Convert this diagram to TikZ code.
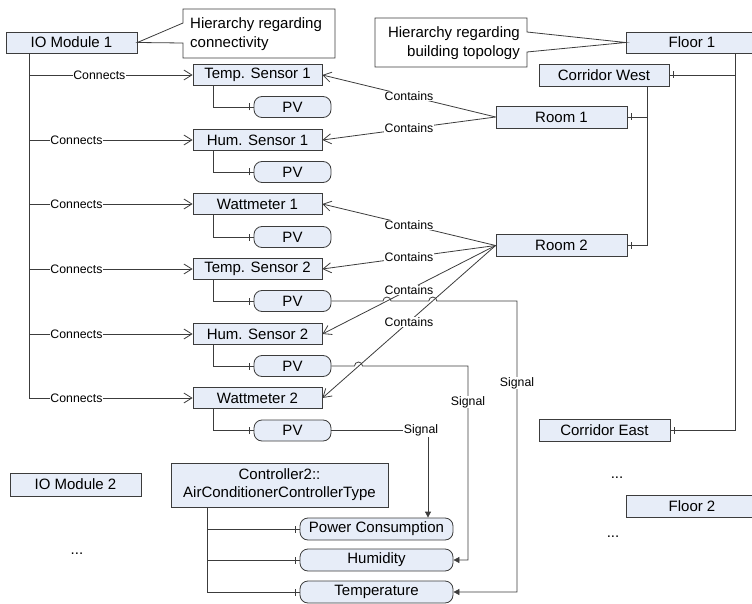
\documentclass[tikz,border=0pt]{standalone}
\usepackage{fontspec}
\setmainfont{Liberation Sans}
\usetikzlibrary{arrows.meta,decorations.markings}
\definecolor{boxfill}{RGB}{231,237,248}
\definecolor{ln}{RGB}{60,60,60}
\begin{document}
\begin{tikzpicture}[x=1pt,y=-1pt,
  every node/.style={font=\fontsize{15}{18}\selectfont},
  box/.style={draw=ln, fill=boxfill, line width=0.8pt, inner sep=0pt, minimum height=21pt},
  sens/.style={box, minimum width=129pt},
  pvbox/.style={box, rounded corners=8pt, minimum width=77pt},
  wbox/.style={box, minimum width=131pt, minimum height=22pt},
  sigbox/.style={box, rounded corners=8pt, minimum width=153pt, minimum height=22pt},
  lab/.style={font=\fontsize{12.3}{14}\selectfont, fill=white, inner sep=0.6pt},
  conn/.style={draw=ln, line width=0.8pt},
  openarr/.style={conn, -{Straight Barb[length=8pt,width=10pt]}},
  sigarr/.style={conn, -{Triangle[length=6pt,width=6pt]}},
  tickend/.style={conn, postaction={decorate}, decoration={markings, mark=at position -4pt with {\draw[ln, line width=0.8pt] (0,-3.5pt)--(0,3.5pt);}}}
]
\useasboundingbox (0,0) rectangle (752,604);
\clip (0,0) rectangle (752,604);

% left hierarchy nodes
\node[box, minimum width=131pt] (io1) at (71.5,42.5) {IO Module 1};
\node[sens] (ts1) at (257.5,75) {Temp. Sensor 1};
\node[pvbox] (pv1) at (292.5,107) {PV};
\node[sens] (hs1) at (257.5,140) {Hum. Sensor 1};
\node[pvbox] (pv2) at (292.5,172) {PV};
\node[sens] (wm1) at (257.5,204) {Wattmeter 1};
\node[pvbox] (pv3) at (292.5,237) {PV};
\node[sens] (ts2) at (257.5,269) {Temp. Sensor 2};
\node[pvbox] (pv4) at (292.5,301) {PV};
\node[sens] (hs2) at (257.5,334) {Hum. Sensor 2};
\node[pvbox] (pv5) at (292.5,366) {PV};
\node[sens] (wm2) at (257.5,398) {Wattmeter 2};
\node[pvbox] (pv6) at (292.5,430.5) {PV};
\node[box, minimum width=131pt, minimum height=23pt] (io2) at (75.5,484.5) {IO Module 2};
\node[anchor=base] (dots1) at (77,554.5) {...};

% right hierarchy nodes
\node[box, minimum width=132pt] (floor1) at (692,42.5) {Floor 1};
\node[box, minimum width=130pt, minimum height=22pt] (cw) at (604,75) {Corridor West};
\node[wbox] (room1) at (561.5,117) {Room 1};
\node[wbox] (room2) at (561.5,245.5) {Room 2};
\node[wbox] (ce) at (604.5,430.5) {Corridor East};
\node[anchor=base] (dots2) at (617,478) {...};
\node[box, minimum width=132pt, minimum height=22pt] (floor2) at (692,506) {Floor 2};
\node[anchor=base] (dots3) at (613,537) {...};

% controller
\node[box, minimum width=217pt, minimum height=44pt, align=center] (ctrl) at (279.5,485) {Controller2::\\AirConditionerControllerType};
\node[sigbox] (pc) at (376.5,529) {Power Consumption};
\node[sigbox] (hum) at (376.5,560) {Humidity};
\node[sigbox] (temp) at (376.5,592) {Temperature};

% callouts
\draw[conn, fill=white] (io1.east) -- (183,23) -- (183,9) -- (335,9) -- (335,58) -- (183,58) -- (183,43) -- cycle;
\node[align=left, anchor=west, inner sep=0pt, font=\fontsize{15}{19}\selectfont] (c1) at (190,34) {Hierarchy regarding\\connectivity};
\draw[conn, fill=white] (floor1.west) -- (527,52) -- (527,67) -- (375,67) -- (375,18) -- (527,18) -- (527,32) -- cycle;
\node[align=right, anchor=east, inner sep=0pt, font=\fontsize{15}{19}\selectfont] (c2) at (520,43) {Hierarchy regarding\\building topology};

% connectivity
\draw[conn] (29,0 |- io1.south) -- (29,0 |- wm2);
\draw[openarr] (29,0 |- ts1) -- node[lab, pos=0.43] (k1) {Connects} (ts1.west);
\draw[openarr] (29,0 |- hs1) -- node[lab, pos=0.29] (k2) {Connects} (hs1.west);
\draw[openarr] (29,0 |- wm1) -- node[lab, pos=0.29] (k3) {Connects} (wm1.west);
\draw[openarr] (29,0 |- ts2) -- node[lab, pos=0.29] (k4) {Connects} (ts2.west);
\draw[openarr] (29,0 |- hs2) -- node[lab, pos=0.29] (k5) {Connects} (hs2.west);
\draw[openarr] (29,0 |- wm2) -- node[lab, pos=0.29] (k6) {Connects} (wm2.west);

% sensor -> PV
\draw[tickend] (213,0 |- ts1.south) |- (pv1.west);
\draw[tickend] (213,0 |- hs1.south) |- (pv2.west);
\draw[tickend] (213,0 |- wm1.south) |- (pv3.west);
\draw[tickend] (213,0 |- ts2.south) |- (pv4.west);
\draw[tickend] (213,0 |- hs2.south) |- (pv5.west);
\draw[tickend] (213,0 |- wm2.south) |- (pv6.west);

% building topology
\draw[conn] (735,0 |- floor1.south) -- (735,0 |- ce);
\draw[tickend] (735,0 |- cw) -- (cw.east);
\draw[tickend] (735,0 |- ce) -- (ce.east);
\draw[conn] (647,0 |- cw.south) -- (647,0 |- room2);
\draw[tickend] (647,0 |- room1) -- (room1.east);
\draw[tickend] (647,0 |- room2) -- (room2.east);

% contains
\draw[openarr] (room1.west) -- node[lab] (r1) {Contains} (ts1.east);
\draw[openarr] (room1.west) -- node[lab] (r2) {Contains} (hs1.east);
\draw[openarr] (room2.west) -- node[lab] (r3) {Contains} (wm1.east);
\draw[openarr] (room2.west) -- node[lab] (r4) {Contains} (ts2.east);
\draw[openarr] (room2.west) -- node[lab] (r5) {Contains} (hs2.east);
\draw[openarr] (room2.west) -- node[lab] (r6) {Contains} (wm2.east);

% controller signals
\draw[conn] (207,0 |- ctrl.south) -- (207,0 |- temp);
\draw[tickend] (207,0 |- pc) -- (pc.west);
\draw[tickend] (207,0 |- hum) -- (hum.west);
\draw[tickend] (207,0 |- temp) -- (temp.west);

\draw[sigarr] (pv6.east) -| (428,0 |- pc.north);
\node[lab] (s1) at (421,430.5) {Signal};
\draw[sigarr] (pv5.east) -- (354.5,366) arc[start angle=180, end angle=0, radius=4pt] -- (468,366) |- (hum.east);
\node[lab] (s2) at (468,402) {Signal};
\draw[sigarr] (pv4.east) -- (383,301) arc[start angle=180, end angle=0, radius=4pt]
  -- (428.8,301) arc[start angle=180, end angle=0, radius=4pt] -- (517,301) |- (temp.east);
\node[lab] (s3) at (517,383) {Signal};
\end{tikzpicture}
\end{document}
